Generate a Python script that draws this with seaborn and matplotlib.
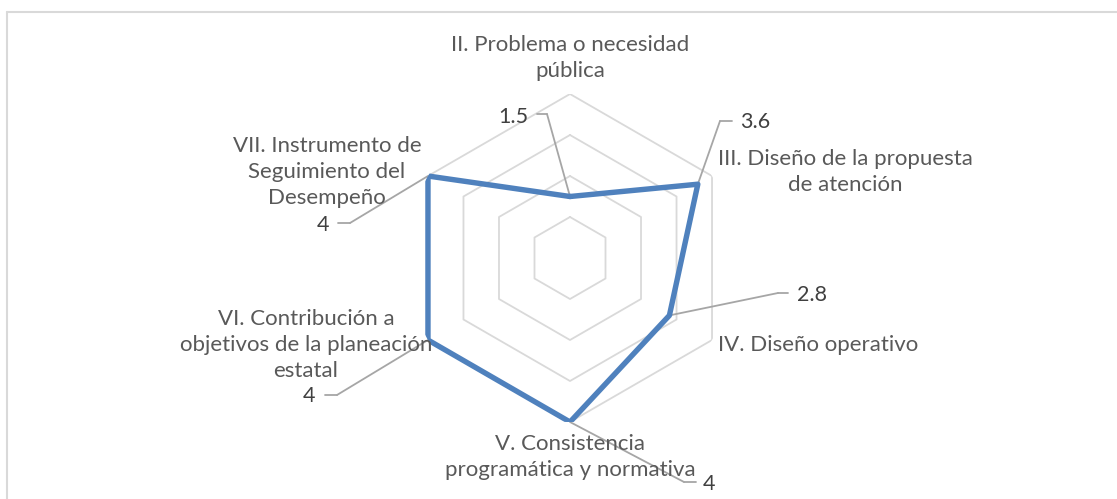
import numpy as np
import matplotlib
matplotlib.use("Agg")
import matplotlib.pyplot as plt
from matplotlib.lines import Line2D
import seaborn as sns

# chart data
categories = [
    "II. Problema o necesidad\npública",
    "III. Diseño de la propuesta\nde atención",
    "IV. Diseño operativo",
    "V. Consistencia\nprogramática y normativa",
    "VI. Contribución a\nobjetivos de la planeación\nestatal",
    "VII. Instrumento de\nSeguimiento del\nDesempeño",
]
values = [1.5, 3.6, 2.8, 4, 4, 4]
value_labels = ["1.5", "3.6", "2.8", "4", "4", "4"]
grid_levels = [1, 2, 3, 4]

W, H = 1117, 499
LINE_BLUE = "#4F81BD"
GRID_GRAY = "#D9D9D9"
LEADER_GRAY = "#A6A6A6"
CAT_COLOR = "#595959"
VAL_COLOR = "#404040"

sns.set_theme(style="white")
plt.rcParams["font.family"] = ["Lato", "DejaVu Sans"]


def fx(x):
    return x / W


def fy(y):
    # y measured from the top of the picture
    return 1 - y / H


fig = plt.figure(figsize=(W / 100, H / 100), dpi=100)

# polar axes centred on the hexagon, radius 164 px for the value 4
cx, cy, rad = 570, 258, 164
ax = fig.add_axes([fx(cx - rad), fy(cy + rad), 2 * rad / W, 2 * rad / H],
                  projection="polar")
ax.set_theta_offset(np.pi / 2)
ax.set_theta_direction(-1)
ax.set_ylim(0, max(grid_levels))
ax.set_xticks([])
ax.set_yticks([])
ax.grid(False)
ax.spines["polar"].set_visible(False)
ax.set_facecolor("none")

n = len(categories)
theta = np.linspace(0, 2 * np.pi, n, endpoint=False)
theta_closed = np.append(theta, 2 * np.pi)

# hexagonal grid rings
for lvl in grid_levels:
    ax.plot(theta_closed, [lvl] * (n + 1), color=GRID_GRAY, lw=1.3, zorder=1)

# series
sns.lineplot(x=theta_closed, y=values + values[:1], sort=False, estimator=None,
             ax=ax, color=LINE_BLUE, linewidth=3.9, zorder=3)

# category labels (x, y of text anchor in px, alignment)
cat_pos = [
    (570, 58, "center"),
    (845, 172, "center"),
    (718, 345, "left"),
    (570, 457, "center"),
    (306, 345, "center"),
    (327, 172, "center"),
]
for text, (x, y, ha) in zip(categories, cat_pos):
    fig.text(fx(x), fy(y), text, ha=ha, va="center", fontsize=16,
             color=CAT_COLOR, linespacing=1.36)

# data labels with leader lines: text position, elbow start, elbow end
val_pos = [
    ((513, 117), (537, 114), (547, 114)),
    ((755, 122), (732, 121), (720, 121)),
    ((812, 295), (788, 293), (778, 293)),
    ((709, 484), (696, 482), (684, 482)),
    ((309, 396), (325, 395), (337, 395)),
    ((323, 225), (338, 223), (350, 223)),
]
for th, v, lab, (tp, p1, p2) in zip(theta, values, value_labels, val_pos):
    fig.text(fx(tp[0]), fy(tp[1]), lab, ha="center", va="center", fontsize=15.5,
             color=VAL_COLOR)
    fig.add_artist(Line2D([fx(p1[0]), fx(p2[0])], [fy(p1[1]), fy(p2[1])],
                          color=LEADER_GRAY, lw=1.3))
    ax.annotate("", xy=(th, v), xytext=(fx(p2[0]), fy(p2[1])),
                textcoords="figure fraction",
                arrowprops=dict(arrowstyle="-", color=LEADER_GRAY, lw=1.3,
                                shrinkA=0, shrinkB=0), zorder=2)

# chart area border (top and left edges visible)
fig.add_artist(Line2D([fx(7), fx(W)], [fy(12), fy(12)], color=GRID_GRAY, lw=1.5))
fig.add_artist(Line2D([fx(7), fx(7)], [fy(12), fy(H)], color=GRID_GRAY, lw=1.5))

fig.savefig("out.png", dpi=100)
